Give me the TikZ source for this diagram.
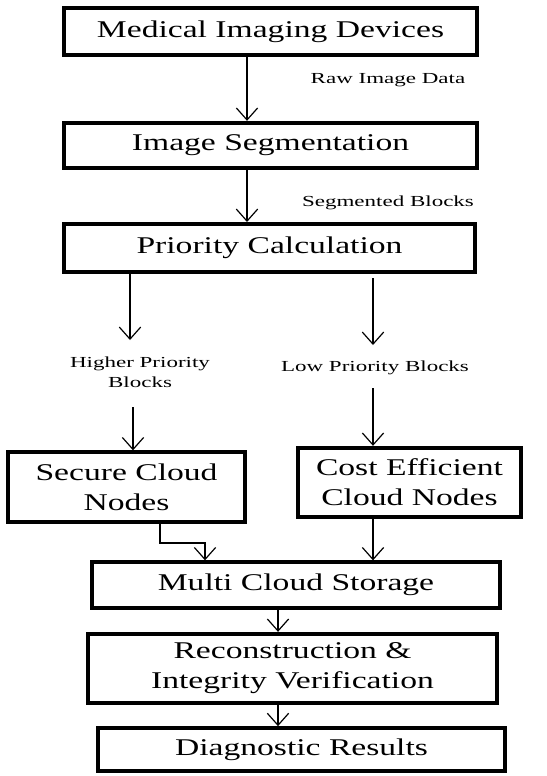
\documentclass[tikz,border=0pt]{standalone}
\usepackage{fontspec}
\setmainfont{Liberation Serif}[FakeStretch=1.4]
\newfontfamily\lblfont{Liberation Serif}[FakeStretch=1.5]
\usetikzlibrary{arrows.meta}
\begin{document}
\begin{tikzpicture}[x=0.75pt,y=-0.75pt,
  box/.style={draw,line width=3pt,inner sep=0pt,align=center,
    font=\fontsize{18}{22.5}\selectfont},
  lbl/.style={inner sep=0pt,align=center,font=\lblfont\fontsize{11.5}{15}\selectfont},
  arr/.style={line width=0.9pt,-{Straight Barb[length=9pt,width=16pt,line width=0.9pt]}}]
\useasboundingbox (0,0) rectangle (547,776);

% processing chain
\node[box,minimum width=310pt,minimum height=35pt] (b1) at (270.5,31.5) {Medical Imaging Devices};
\node[box,minimum width=310pt,minimum height=34pt] (b2) at (270.5,145.5) {Image Segmentation};
\node[box,minimum width=308pt,minimum height=36pt] (b3) at (269.5,248) {Priority Calculation};
\node[box,minimum width=178pt,minimum height=52pt] (sec) at (126.5,487) {Secure Cloud\\Nodes};
\node[box,minimum width=167pt,minimum height=52pt] (cost) at (409.5,482.5) {Cost Efficient\\Cloud Nodes};
\node[box,minimum width=306pt,minimum height=34pt] (multi) at (296,585) {Multi Cloud Storage};
\node[box,minimum width=307pt,minimum height=52pt] (recon) at (292.5,668.5) {Reconstruction \&\\Integrity Verification};
\node[box,minimum width=305pt,minimum height=32pt] (diag) at (301.5,749.5) {Diagnostic Results};

% data labels
\node[lbl] (raw) at (388,80) {Raw Image Data};
\node[lbl] (seg) at (388,203) {Segmented Blocks};
\node[lbl] (hi) at (140,372) {Higher Priority\\Blocks};
\node[lbl] (lo) at (375,368) {Low Priority Blocks};

% arrow columns
\coordinate (c1) at (247,0);
\coordinate (c2) at (130,340);
\coordinate (c3) at (133,407);
\coordinate (c4) at (373,278);
\coordinate (c5) at (373,345);
\coordinate (c6) at (373,388);
\coordinate (e1) at (160,543);
\coordinate (e2) at (205,543);
\coordinate (c7) at (278,0);

\draw[arr] (b1.south -| c1) -- (b2.north -| c1);
\draw[arr] (b2.south -| c1) -- (b3.north -| c1);
\draw[arr] (b3.south -| c2) -- (c2);
\draw[arr] (c3) -- (sec.north -| c3);
\draw[arr] (c4) -- (c5);
\draw[arr] (c6) -- (cost.north -| c6);
\draw[arr] (sec.south -| e1) -- (e1) -- (e2) -- (multi.north -| e2);
\draw[arr] (cost.south -| c6) -- (multi.north -| c6);
\draw[arr] (multi.south -| c7) -- (recon.north -| c7);
\draw[arr] (recon.south -| c7) -- (diag.north -| c7);
\end{tikzpicture}
\end{document}
